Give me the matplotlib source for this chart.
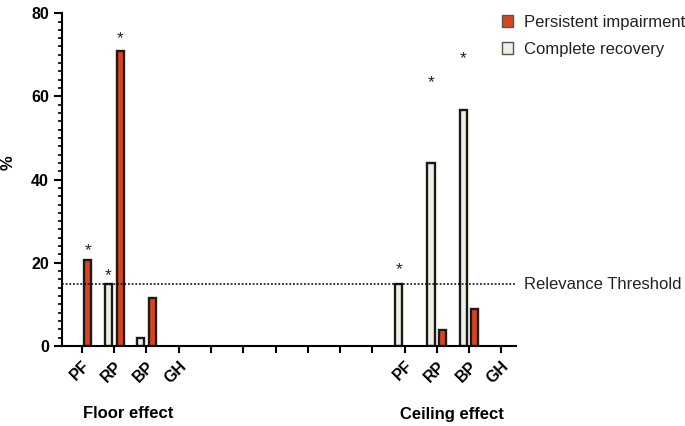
import numpy as np
import matplotlib
matplotlib.use("Agg")
import matplotlib.pyplot as plt
from matplotlib.patches import Patch
from matplotlib.ticker import MultipleLocator

plt.rcParams['font.family'] = ['Liberation Sans', 'DejaVu Sans']

# Data
categories = ['PF', 'RP', 'BP', 'GH']
floor_persistent = [20.6, 70.8, 11.6, 0]
floor_recovery = [0, 14.8, 1.8, 0]
ceiling_persistent = [0, 3.9, 8.9, 0]
ceiling_recovery = [14.8, 43.9, 56.7, 0]
threshold = 14.8

# significance stars: (category index, series, y)
stars_floor = [(0, 'persistent', 23.0), (1, 'recovery', 17.0), (1, 'persistent', 73.8)]
stars_ceiling = [(0, 'recovery', 18.4), (1, 'recovery', 63.2), (2, 'recovery', 69.0)]

col_persistent = '#D9441D'
col_recovery = '#EEF0E1'

floor_x = np.arange(4)
ceiling_x = np.arange(10, 14)
gap_ticks = np.arange(4, 10)
offset = 0.18
width = 0.22

fig, ax = plt.subplots(figsize=(6.85, 4.26), dpi=100)
fig.subplots_adjust(left=0.0905, right=0.753, bottom=0.188, top=0.969)

for xs, rec, per in [(floor_x, floor_recovery, floor_persistent),
                     (ceiling_x, ceiling_recovery, ceiling_persistent)]:
    for x, r, p in zip(xs, rec, per):
        if r > 0:
            ax.bar(x - offset, r, width, color=col_recovery, edgecolor='#1a1a1a', linewidth=1.7)
        if p > 0:
            ax.bar(x + offset, p, width, color=col_persistent, edgecolor='#1a1a1a', linewidth=1.7)

for xs, stars in [(floor_x, stars_floor), (ceiling_x, stars_ceiling)]:
    for i, series, y in stars:
        sx = xs[i] - offset if series == 'recovery' else xs[i] + offset
        ax.text(sx, y, '*', ha='center', va='center', fontsize=12.5, color='#222222')

ax.axhline(threshold, color='black', linestyle=(0, (1.2, 1.2)), linewidth=1.1)
ax.text(1.018, threshold, 'Relevance Threshold', transform=ax.get_yaxis_transform(),
        ha='left', va='center', fontsize=12, color='#222222', clip_on=False)

ax.set_xlim(-0.62, 13.45)
ax.set_ylim(0, 80)

all_ticks = np.concatenate([floor_x, gap_ticks, ceiling_x])
all_labels = categories + [''] * len(gap_ticks) + categories
ax.set_xticks(all_ticks)
ax.set_xticklabels(all_labels, rotation=45, ha='right', rotation_mode='anchor',
                   fontsize=11.5, fontweight='bold')
ax.yaxis.set_major_locator(MultipleLocator(20))
ax.yaxis.set_minor_locator(MultipleLocator(2))
for lab in ax.get_yticklabels():
    lab.set_fontweight('bold')
    lab.set_fontsize(11.5)

ax.tick_params(axis='x', length=5, width=1.5, direction='out', pad=4)
ax.tick_params(axis='y', which='major', length=6, width=1.5)
ax.tick_params(axis='y', which='minor', length=3, width=1.2)

for s in ['top', 'right']:
    ax.spines[s].set_visible(False)
for s in ['left', 'bottom']:
    ax.spines[s].set_linewidth(1.5)

ax.set_ylabel('%', fontsize=12, fontweight='bold')
ax.yaxis.set_label_coords(-0.103, 0.55)

fig.text(128 / 685, 1 - 414 / 426, 'Floor effect', ha='center', va='center',
         fontsize=12, fontweight='bold')
fig.text(452 / 685, 1 - 414 / 426, 'Ceiling effect', ha='center', va='center',
         fontsize=12, fontweight='bold')

handles = [Patch(facecolor=col_persistent, edgecolor='#555555', label='Persistent impairment'),
           Patch(facecolor=col_recovery, edgecolor='#555555', label='Complete recovery')]
fig.legend(handles=handles, loc='upper left', bbox_to_anchor=(502 / 685, 1 - 15 / 426),
           frameon=False, fontsize=12, handlelength=0.65, handleheight=0.75,
           handletextpad=0.65, labelspacing=0.72, borderpad=0, borderaxespad=0,
           labelcolor='#222222')

fig.savefig('out.png', dpi=100)
